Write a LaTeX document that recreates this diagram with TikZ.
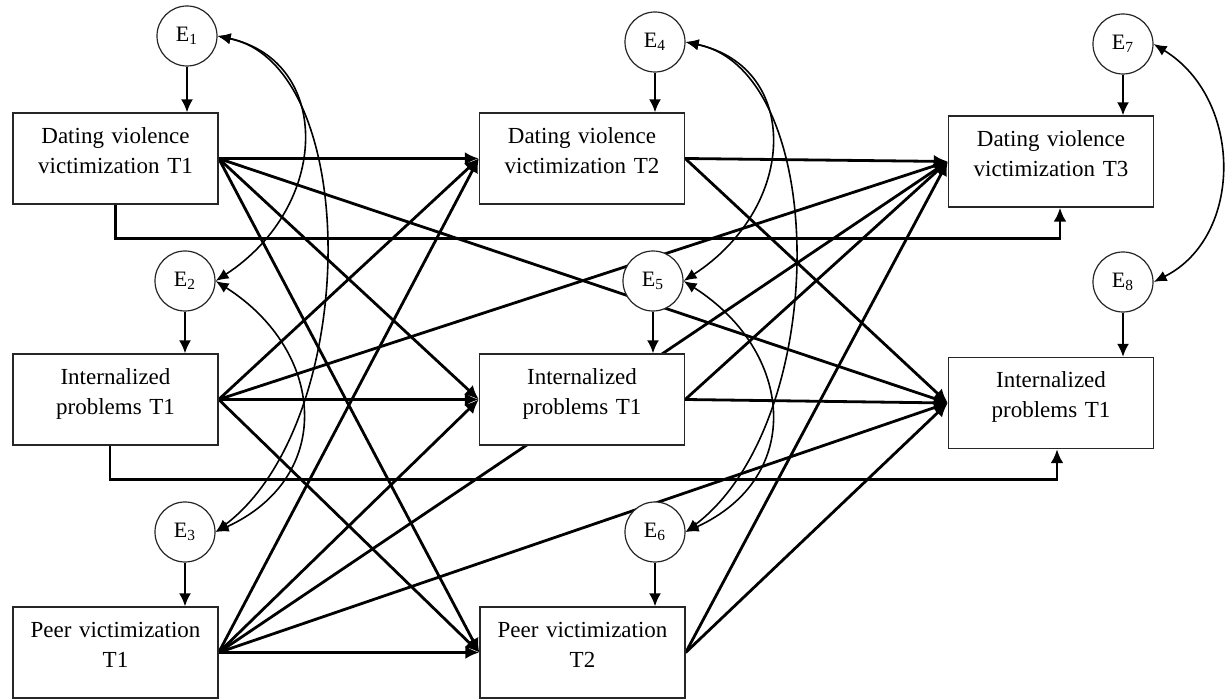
\documentclass[tikz,border=0pt]{standalone}
\usepackage{fontspec}
\setmainfont{Liberation Serif}
\usepackage{tikz}
\usetikzlibrary{arrows.meta,backgrounds}
\tikzset{
  vvar/.style={draw=black!85,fill=white,line width=0.7pt,text width=100pt,inner xsep=1.25pt,inner ysep=0pt,
    minimum height=45.5pt,align=center,font=\fontsize{11.5}{15}\selectfont},
  verr/.style={circle,draw=black!85,fill=white,line width=0.6pt,minimum size=30pt,inner sep=0pt,
    font=\fontsize{11}{13}\selectfont},
  varr/.style={-{Latex[length=7pt,width=6.5pt]},line width=1.4pt},
  vres/.style={-{Latex[length=6.5pt,width=6pt]},line width=0.9pt},
  vcov/.style={{Latex[length=6.5pt,width=5.5pt]}-{Latex[length=6.5pt,width=5.5pt]},line width=0.8pt}
}
\begin{document}
\begin{tikzpicture}[x=0.5pt,y=-0.5pt]
  \useasboundingbox (0,0) rectangle (1228,699);
  \node[vvar] (dv1) at (115.5,158.5) {Dating violence\\victimization T1\\[-7pt]\mbox{}};
  \node[vvar] (ip1) at (115.5,399.5) {Internalized\\problems T1\\[-7pt]\mbox{}};
  \node[vvar] (pv1) at (115.5,652.5) {Peer victimization\\T1\\[-7pt]\mbox{}};
  \node[vvar] (dv2) at (582,158.5) {Dating violence\\victimization T2\\[-7pt]\mbox{}};
  \node[vvar] (ip2) at (582,399.5) {Internalized\\problems T1\\[-7pt]\mbox{}};
  \node[vvar] (pv2) at (582.5,652.5) {Peer victimization\\T2\\[-7pt]\mbox{}};
  \node[vvar] (dv3) at (1051,161.5) {Dating violence\\victimization T3\\[-7pt]\mbox{}};
  \node[vvar] (ip3) at (1051,403) {Internalized\\problems T1\\[-7pt]\mbox{}};
  \foreach \nm/\px/\py/\k in {e1/187/36/1,e2/185/281/2,e3/185/532/3,e4/655/42/4,
      e5/653/281/5,e6/655/532/6,e7/1123/44/7,e8/1123/282/8}
    \node[verr] (\nm) at (\px,\py) {E\textsubscript{\k}};
  \begin{scope}[on background layer]
    \foreach \nm/\bx in {e1/dv1,e2/ip1,e3/pv1,e4/dv2,e5/ip2,e6/pv2,e7/dv3,e8/ip3}
      \draw[vres] (\nm.south) -- (\nm.south |- \bx.north);
    \foreach \s/\t in {dv1/dv2,dv1/ip2,dv1/pv2,dv1/ip3,ip1/dv2,ip1/ip2,ip1/pv2,ip1/dv3,
        pv1/dv2,pv1/ip2,pv1/pv2,pv1/dv3,pv1/ip3,dv2/dv3,dv2/ip3,ip2/dv3,ip2/ip3,pv2/dv3,pv2/ip3}
      \draw[varr] (\s.east) -- (\t.west);
    \draw[varr] (dv1.south) -- ++(0,34) -| ([xshift=4.5pt]dv3.south);
    \draw[varr] ([xshift=-2.75pt]ip1.south) -- ++(0,34) -| ([xshift=3pt]ip3.south);
    \foreach \a/\b/\c in {e1/e2/e3,e4/e5/e6}{
      \draw[vcov] (\a.east) .. controls +(115,25) and +(115,-75) .. (\b.east);
      \draw[vcov] (\a.east) .. controls +(145,30) and +(145,-110) .. (\c.east);
      \draw[vcov] (\b.east) .. controls +(110,70) and +(120,-55) .. (\c.east);
    }
    \draw[vcov] (e7.east) .. controls +(90,55) and +(90,-45) .. (e8.east);
  \end{scope}
\end{tikzpicture}
\end{document}
